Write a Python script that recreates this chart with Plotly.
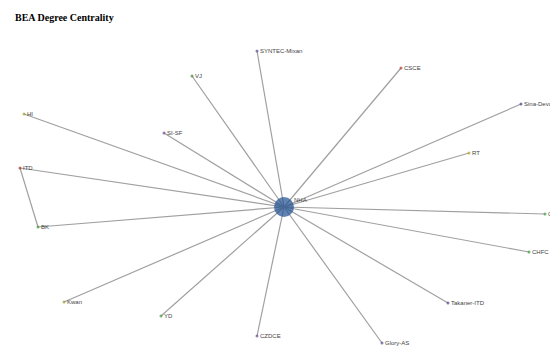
import plotly.graph_objects as go

# node layout (pixel-like units, y grows downward)
names = ["NHA", "SYNTEC-Mixan", "VJ", "CSCE", "Sina-Deva", "HI", "SI-SF", "RT",
         "ITD", "BK", "CH", "CHFC", "Kwan", "YD", "CZDCE", "Takaner-ITD", "Glory-AS"]
xs = [284, 257, 192, 401, 521, 24, 164, 469, 20, 38, 545, 529, 64, 161, 257, 448, 382]
ys = [207, 51, 76, 68, 104, 114, 133, 153, 168, 227, 214, 252, 302, 316, 336, 303, 343]
colors = ["#1d4f91", "#5a4a9a", "#3a8a3a", "#c0392b", "#4a3f8f", "#a0a030", "#6a4a9a",
          "#b8a020", "#b03030", "#3a9a3a", "#3a9a3a", "#3a9a3a", "#9a9a30", "#3a9a3a",
          "#6a4a9a", "#5a3f8f", "#5a4a9a"]
sizes = [20] + [3] * 16

edges = [("NHA", n) for n in names[1:]] + [("ITD", "BK")]

pos = {n: (x, y) for n, x, y in zip(names, xs, ys)}

fig = go.Figure()

ex, ey = [], []
for a, b in edges:
    ex += [pos[a][0], pos[b][0], None]
    ey += [pos[a][1], pos[b][1], None]

fig.add_trace(go.Scatter(
    x=ex, y=ey, mode="lines",
    line=dict(color="#a0a0a0", width=1.2),
    hoverinfo="skip", showlegend=False
))

fig.add_trace(go.Scatter(
    x=xs, y=ys, mode="markers",
    marker=dict(size=sizes, color=colors, line=dict(width=0)),
    hoverinfo="skip", showlegend=False
))

# labels to the right of each dot (annotations carry ~2px of padding)
for n, x, y in zip(names, xs, ys):
    fig.add_annotation(
        x=x + (8 if n == "NHA" else 1), y=y - (7 if n == "NHA" else 0),
        xref="x", yref="y", text=n, showarrow=False,
        xanchor="left", yanchor="middle",
        font=dict(family="Liberation Sans", size=6, color="#444444")
    )

fig.add_annotation(
    text="<b>BEA Degree Centrality</b>", x=13, y=17, xref="x", yref="y",
    xanchor="left", yanchor="middle", showarrow=False,
    font=dict(family="Liberation Serif", size=10, color="black")
)

# page body has an 8px margin: shrink the figure so it fits the window without
# scrollbars, and shift the ranges so data units equal page pixels
fig.update_layout(
    width=550, height=342,
    margin=dict(l=0, r=0, t=0, b=0),
    paper_bgcolor="white", plot_bgcolor="white",
    hovermode=False,
    xaxis=dict(range=[8, 558], visible=False, fixedrange=True),
    yaxis=dict(range=[350, 8], visible=False, fixedrange=True),
)

fig.write_html("out.html")
